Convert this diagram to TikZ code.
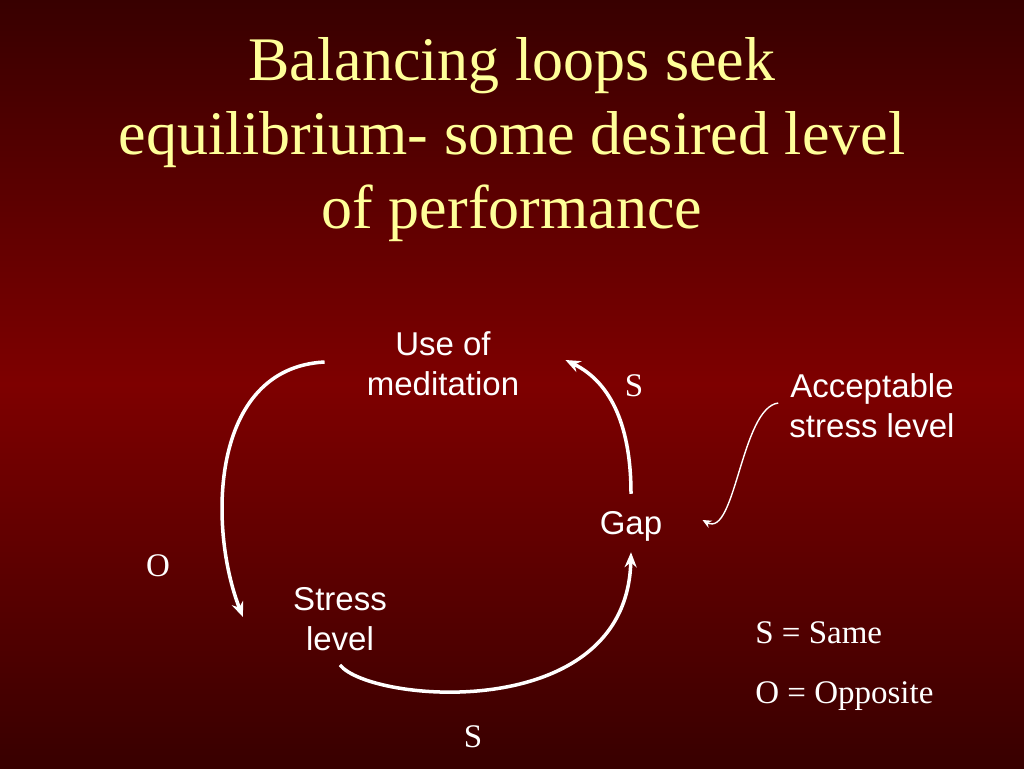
\documentclass[tikz,border=0pt]{standalone}
\usepackage{fontspec}
\setmainfont{Liberation Serif}
\setsansfont{Liberation Sans}
\usepackage{xcolor}
\usetikzlibrary{arrows,shapes,positioning,calc}
\usetikzlibrary{arrows.meta}

\definecolor{bgdark}{RGB}{56,0,0}
\definecolor{bgred}{RGB}{126,0,0}
\definecolor{titleyellow}{RGB}{255,255,153}

\begin{document}
\begin{tikzpicture}[x=1pt,y=1pt,
>={Stealth[length=15pt,width=12pt]},
semithick]

\tikzstyle{var}=[align=center, inner sep=0pt, text=white,
font=\fontsize{33}{40}\selectfont\sffamily]
\tikzstyle{sign}=[inner sep=0pt, text=white,
font=\fontsize{33}{40}\selectfont\rmfamily]
\tikzstyle{heading}=[align=center, text=titleyellow,
font=\fontsize{62}{74}\selectfont\rmfamily]
\tikzstyle{link}=[->, draw=white, line width=3.5pt]
\tikzstyle{thinlink}=[->, draw=white, line width=1.4pt,
>={Stealth[length=9pt,width=8pt]}]

%background
\shade[top color=bgdark, bottom color=bgred] (0,384) rectangle (1024,768);
\shade[top color=bgred, bottom color=bgdark] (0,0) rectangle (1024,384);
\useasboundingbox (0,0) rectangle (1024,768);

%title
\node[heading]
(title) at (512,628)
{Balancing loops seek\\equilibrium- some desired level\\of performance};

%loop variables
\node[var]
(usemed) at (443,404)
{Use of\\meditation};

\node[var]
(stress) at (340,149)
{Stress\\level};

\node[var]
(gap) at (631,242)
{Gap};

\node[var]
(accept) at (872,362)
{Acceptable\\stress level};

%link signs
\node[sign] (s1) at (634,382) {S};
\node[sign] (o1) at (158,202) {O};
\node[sign] (s2) at (473,31) {S};

%legend
\node[sign, anchor=west] (same) at (755,135) {S = Same};
\node[sign, anchor=west] (opp) at ([yshift=-63pt]same.west) {O = Opposite};

\draw[link] ([xshift=-42pt,yshift=2pt]usemed.west)
  .. controls +(-115,-6) and +(-35,89) .. ([xshift=-50pt,yshift=2pt]stress.west);
\draw[link] ([yshift=-14pt]stress.south)
  .. controls +(30,-38) and +(-4,-173) .. ([yshift=-11pt]gap.south);
\draw[link] ([yshift=17pt]gap.north)
  .. controls +(0,65) and +(47,-23) .. ([xshift=46pt,yshift=4pt]usemed.east);
\draw[thinlink] ([xshift=-11pt,yshift=3pt]accept.west)
  .. controls +(-37,-5) and +(33,-18) .. ([xshift=40pt,yshift=6pt]gap.east);

\end{tikzpicture}
\end{document}
